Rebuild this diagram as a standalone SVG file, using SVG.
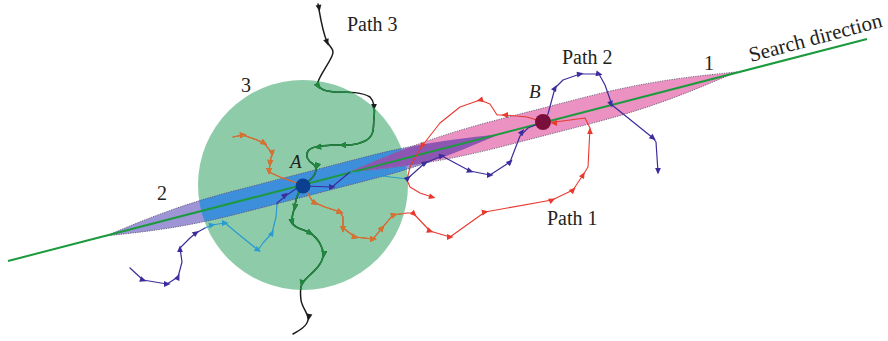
<svg xmlns="http://www.w3.org/2000/svg" xmlns:xlink="http://www.w3.org/1999/xlink" width="888" height="341" viewBox="0 0 888 341">
<style>
.lbl{font-family:"Liberation Serif","Times New Roman",serif;font-size:20px;fill:#231f20}
.it{font-style:italic;font-size:19px}
.sd{font-size:21px}
.ln{fill:none;stroke-linejoin:round;stroke-linecap:round}
.dot{fill:none;stroke:#5a5a70;stroke-width:0.8;stroke-dasharray:1.2 1.2}
</style>
<defs>
<path id="tri" d="M3.6,0 L-3,-2.9 L-3,2.9 Z" stroke="none"/>
<clipPath id="clipCirc"><circle cx="303" cy="185" r="105"/></clipPath>
<clipPath id="clipPink"><path transform="translate(543,122) rotate(-14.5)" d="M-200,0 C-150,-7.5 -115,-13 -50,-13.5 L50,-13.5 C115,-13 150,-7.5 200,0 C150,7.5 115,13 50,13.5 L-50,13.5 C-115,13 -150,7.5 -200,0 Z"/></clipPath>
<path id="ellBlue" transform="translate(303,185) rotate(-14.5)" d="M-203,0 C-160,-6.5 -125,-11.3 -70,-11.6 L70,-11.6 C125,-11.3 160,-6.5 203,0 C160,6.5 125,11.3 70,11.6 L-70,11.6 C-125,11.3 -160,6.5 -203,0 Z"/>
<g id="p1">
<polyline class="ln" stroke-width="1.1" points="303,186 313,202 325,207 340,212 343,217 343,228 355,237 373,239 382,228 393,215 407,213 413,213 430,231 450,237 485,212 552,200 573,190 583,175 588,167 590,128 585,118 555,122 543,122"/>
<polyline class="ln" stroke-width="1.1" points="543,122 527,117 505,115 497,115 490,104 480,100 460,107 440,123 422,146 410,167 407,180 410,187 420,193 432,197"/>
<polyline class="ln" stroke-width="1.1" points="233,137 243,135 257,140 264,143 272,153 270,163 269,172 280,177 297,183 303,186"/>
<use xlink:href="#tri" transform="translate(315,203) rotate(25)"/>
<use xlink:href="#tri" transform="translate(340,212) rotate(20)"/>
<use xlink:href="#tri" transform="translate(343,229) rotate(90)"/>
<use xlink:href="#tri" transform="translate(355,237) rotate(15)"/>
<use xlink:href="#tri" transform="translate(373,239) rotate(0)"/>
<use xlink:href="#tri" transform="translate(382,228) rotate(-50)"/>
<use xlink:href="#tri" transform="translate(394,215) rotate(-15)"/>
<use xlink:href="#tri" transform="translate(414,214) rotate(45)"/>
<use xlink:href="#tri" transform="translate(430,231) rotate(20)"/>
<use xlink:href="#tri" transform="translate(450,237) rotate(0)"/>
<use xlink:href="#tri" transform="translate(485,212) rotate(-10)"/>
<use xlink:href="#tri" transform="translate(552,200) rotate(-25)"/>
<use xlink:href="#tri" transform="translate(573,190) rotate(-45)"/>
<use xlink:href="#tri" transform="translate(583,175) rotate(-60)"/>
<use xlink:href="#tri" transform="translate(590,131) rotate(-90)"/>
<use xlink:href="#tri" transform="translate(554,123) rotate(180)"/>
<use xlink:href="#tri" transform="translate(505,115) rotate(180)"/>
<use xlink:href="#tri" transform="translate(480,100) rotate(165)"/>
<use xlink:href="#tri" transform="translate(422,146) rotate(120)"/>
<use xlink:href="#tri" transform="translate(432,197) rotate(15)"/>
<use xlink:href="#tri" transform="translate(243,135) rotate(-5)"/>
<use xlink:href="#tri" transform="translate(264,143) rotate(30)"/>
<use xlink:href="#tri" transform="translate(272,153) rotate(85)"/>
<use xlink:href="#tri" transform="translate(270,163) rotate(95)"/>
<use xlink:href="#tri" transform="translate(269,171) rotate(90)"/>
</g>
<g id="p3">
<path class="ln" stroke-width="1.5" d="M318,4 C320,15 322,30 327,42 C331,48 335,50 332,56 C328,65 320,75 318,82 C318,88 322,91 335,92 C350,92 362,92 370,97 C375,102 375,110 374,118 C373,128 375,136 365,141 C355,146 345,145 332,145 C322,146 312,146 308,151 C305,156 308,161 313,164 C318,168 316,174 312,178 C308,182 305,184 303,186"/>
<path class="ln" stroke-width="1.5" d="M303,186 C298,192 296,198 295,205 C294,212 290,218 293,224 C296,229 304,229 310,233 C318,238 324,248 323,256 C322,266 310,274 303,282 C300,286 300,292 301,300 C302,308 309,314 308,320 C307,326 300,330 293,334"/>
<use xlink:href="#tri" transform="translate(319,8) rotate(80)"/>
<use xlink:href="#tri" transform="translate(327,42) rotate(70)"/>
<use xlink:href="#tri" transform="translate(318,86) rotate(60)"/>
<use xlink:href="#tri" transform="translate(374,107) rotate(90)"/>
<use xlink:href="#tri" transform="translate(343,145) rotate(180)"/>
<use xlink:href="#tri" transform="translate(318,147) rotate(172)"/>
<use xlink:href="#tri" transform="translate(317,166) rotate(110)"/>
<use xlink:href="#tri" transform="translate(295,207) rotate(95)"/>
<use xlink:href="#tri" transform="translate(292,222) rotate(80)"/>
<use xlink:href="#tri" transform="translate(310,233) rotate(30)"/>
<use xlink:href="#tri" transform="translate(324,254) rotate(95)"/>
<use xlink:href="#tri" transform="translate(302,283) rotate(100)"/>
<use xlink:href="#tri" transform="translate(309,317) rotate(100)"/>
</g>
</defs>
<rect width="888" height="341" fill="#ffffff"/>
<g id="region-3">
<circle cx="303" cy="185" r="105" fill="#8ecba9"/>
</g>
<g id="region-2">
<use xlink:href="#ellBlue" fill="#9d95d5"/>
<use xlink:href="#ellBlue" fill="#3e8fdb" clip-path="url(#clipCirc)"/>
<use xlink:href="#ellBlue" class="dot"/>
</g>
<g id="region-1">
<path transform="translate(543,122) rotate(-14.5)" d="M-200,0 C-150,-7.5 -115,-13 -50,-13.5 L50,-13.5 C115,-13 150,-7.5 200,0 C150,7.5 115,13 50,13.5 L-50,13.5 C-115,13 -150,7.5 -200,0 Z" fill="#ec92c2" stroke="#5a5a70" stroke-width="0.8" stroke-dasharray="1.2 1.2"/>
<use xlink:href="#ellBlue" fill="#8e56b3" clip-path="url(#clipPink)"/>
</g>
<g id="search-direction">
<line x1="8" y1="261" x2="867" y2="39" stroke="#1b9a3e" stroke-width="2"/>
</g>
<g id="connectors">
<g id="path-1">
<use xlink:href="#p1" stroke="#e8392e" fill="#e8392e"/>
<use xlink:href="#p1" stroke="#d5742f" fill="#d5742f" clip-path="url(#clipCirc)"/>
</g>
<g id="path-3">
<use xlink:href="#p3" stroke="#1c1c1c" fill="#1c1c1c"/>
<use xlink:href="#p3" stroke="#1e8a3e" fill="#1e8a3e" clip-path="url(#clipCirc)"/>
</g>
<g id="path-2" stroke-width="1.2">
<polyline class="ln" stroke="#3b2d9b" points="130,268 143,280 167,284 178,277 182,262 180,248 190,238 196,233 205,228"/>
<polyline class="ln" stroke="#2a9bd3" points="205,228 212,225 225,223 237,233 258,250 263,243 272,233 276,217 277,204"/>
<polyline class="ln" stroke="#3b2d9b" points="277,204 277,203 287,195 297,188 303,186 332,187 350,172"/>
<polyline class="ln" stroke="#2a9bd3" points="350,172 407,179"/>
<polyline class="ln" stroke="#3b2d9b" points="407,179 425,163 442,156 470,171 490,175 510,162 520,136 528,128 543,122 548,114 555,88 563,80 580,74 599,74 605,85 612,105 653,138 656,142 658,172"/>
<g fill="#3b2d9b">
<use xlink:href="#tri" transform="translate(143,280) rotate(20)"/>
<use xlink:href="#tri" transform="translate(167,284) rotate(0)"/>
<use xlink:href="#tri" transform="translate(178,277) rotate(-65)"/>
<use xlink:href="#tri" transform="translate(180,249) rotate(-90)"/>
<use xlink:href="#tri" transform="translate(196,233) rotate(-35)"/>
<use xlink:href="#tri" transform="translate(285,195) rotate(-40)"/>
<use xlink:href="#tri" transform="translate(332,187) rotate(0)"/>
<use xlink:href="#tri" transform="translate(408,178) rotate(-40)"/>
<use xlink:href="#tri" transform="translate(425,163) rotate(-30)"/>
<use xlink:href="#tri" transform="translate(442,156) rotate(-10)"/>
<use xlink:href="#tri" transform="translate(470,171) rotate(20)"/>
<use xlink:href="#tri" transform="translate(490,175) rotate(0)"/>
<use xlink:href="#tri" transform="translate(510,162) rotate(-45)"/>
<use xlink:href="#tri" transform="translate(522,132) rotate(-55)"/>
<use xlink:href="#tri" transform="translate(555,88) rotate(-60)"/>
<use xlink:href="#tri" transform="translate(580,74) rotate(-10)"/>
<use xlink:href="#tri" transform="translate(599,74) rotate(10)"/>
<use xlink:href="#tri" transform="translate(611,104) rotate(70)"/>
<use xlink:href="#tri" transform="translate(653,138) rotate(40)"/>
<use xlink:href="#tri" transform="translate(658,171) rotate(90)"/>
</g>
<g fill="#2a9bd3">
<use xlink:href="#tri" transform="translate(212,225) rotate(-10)"/>
<use xlink:href="#tri" transform="translate(225,223) rotate(0)"/>
<use xlink:href="#tri" transform="translate(258,250) rotate(30)"/>
<use xlink:href="#tri" transform="translate(272,233) rotate(-60)"/>
</g>
</g>
</g>
<g id="node-A">
<circle cx="303" cy="186" r="7.5" fill="#0b3f8f"/>
<text class="lbl it" x="290" y="168">A</text>
</g>
<g id="node-B">
<circle cx="543" cy="122" r="8" fill="#7a0f3c"/>
<text class="lbl it" x="529" y="98">B</text>
</g>
<g id="labels">
<text class="lbl" x="347" y="31">Path 3</text>
<text class="lbl" x="562" y="64">Path 2</text>
<text class="lbl" x="547" y="225">Path 1</text>
<text class="lbl" x="704" y="70">1</text>
<text class="lbl" x="157" y="200">2</text>
<text class="lbl" x="241" y="92">3</text>
<text class="lbl sd" x="0" y="0" transform="translate(751,62) rotate(-15)">Search direction</text>
</g>
</svg>
